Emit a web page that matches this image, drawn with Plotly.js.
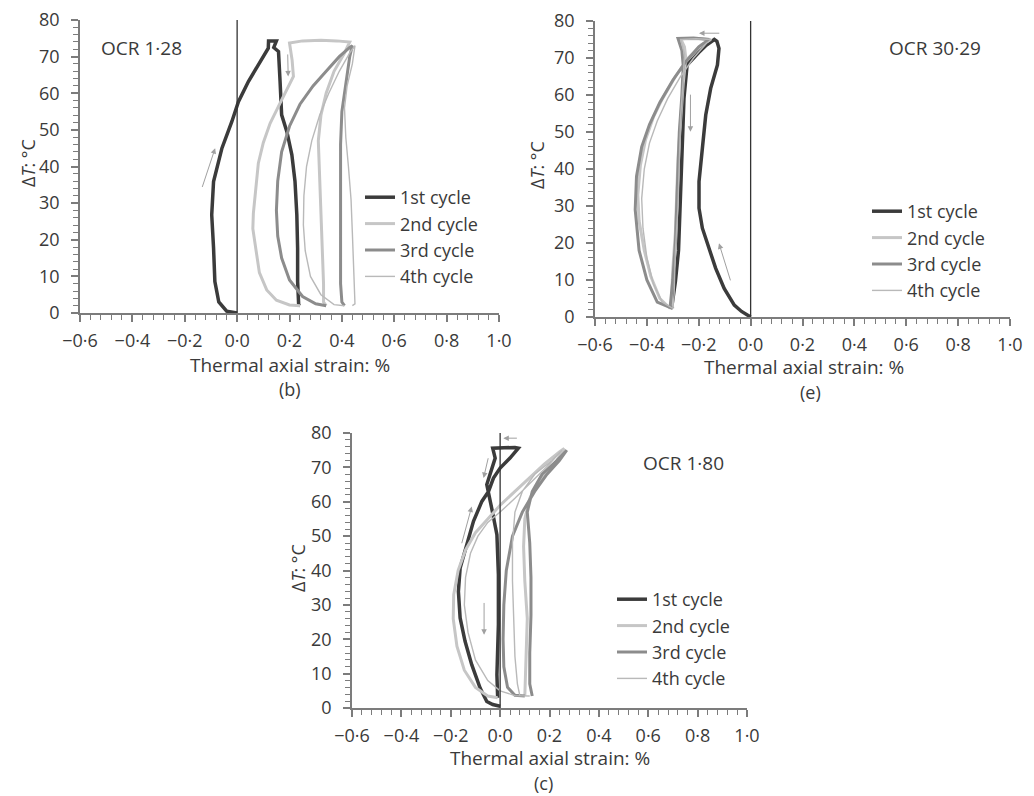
<!DOCTYPE html>
<html>
<head>
<meta charset="utf-8">
<script src="https://cdn.plot.ly/plotly-3.0.1.min.js"></script>
<style>html,body{margin:0;padding:0;background:#fff}</style>
</head>
<body>
<div id="chart"></div>
<script>
// ---------- axes ----------
const xRange = [-0.6, 1.0];
const xMajorStep = 0.2;
const xMinorStep = 0.04;
const yRange = [0, 80];
const yMajorStep = 10;
const yMinorStep = 2;
const cycleNames = ['1st cycle','2nd cycle','3rd cycle','4th cycle'];
const zeroStrainX = [0, 0];
const zeroStrainY = [0, 80];

// ---------- panel (b) OCR 1·28 ----------
const bC1x = [0.0,-0.04,-0.07,-0.085,-0.09,-0.097,-0.09,-0.058,-0.02,0.005,0.043,0.088,0.119,0.12,0.15,0.14,0.158,0.164,0.17,0.19,0.209,0.221,0.228,0.231,0.231,0.235,0.24];
const bC1y = [0,0.5,3,8.6,17.7,26.8,35.9,45,52.3,57.7,63.2,68.6,72.3,74.3,74.3,72.5,71.4,63.2,54.1,49.5,43.2,35.9,26.8,17.7,8.6,2.2,2];
const bC2x = [0.24,0.2,0.15,0.113,0.085,0.069,0.06,0.062,0.07,0.081,0.1,0.126,0.164,0.215,0.21,0.2,0.25,0.32,0.38,0.43,0.41,0.37,0.34,0.32,0.31,0.315,0.32,0.325,0.33,0.33,0.34];
const bC2y = [2,2.2,3.5,6.3,11,18,23,27.2,34,40.9,46.5,51.8,57.3,64.6,69,73.7,74.3,74.5,74.3,74,71,66,60,54,47,38,28,18,8,3,2];
const bC3x = [0.34,0.3,0.25,0.2,0.17,0.155,0.15,0.155,0.17,0.2,0.24,0.29,0.34,0.39,0.43,0.44,0.43,0.415,0.4,0.395,0.395,0.395,0.395,0.395,0.4,0.41];
const bC3y = [2,2.5,4.5,9,15,21,28,36,44,51,57,62,66,70,72.5,73,70,63,55,46,37,27,17,8,3,2];
const bC4x = [0.41,0.37,0.32,0.28,0.26,0.253,0.255,0.265,0.285,0.315,0.35,0.39,0.43,0.45,0.44,0.42,0.41,0.415,0.425,0.435,0.44,0.445,0.45,0.45,0.44];
const bC4y = [2,2.3,5,10,17,24,32,40,47,54,60,66,71,73,68,62,56,48,40,31,22,13,6,2.5,2];
const bArrowTail = [[-0.135,34],[0.193,71]];
const bArrowHead = [[-0.084,45],[0.195,64.6]];

// ---------- panel (e) OCR 30·29 ----------
const eC1x = [0.0,-0.01,-0.035,-0.063,-0.102,-0.135,-0.16,-0.186,-0.199,-0.2,-0.199,-0.186,-0.173,-0.154,-0.128,-0.122,-0.13,-0.14,-0.17,-0.2,-0.245,-0.257,-0.264,-0.27,-0.278,-0.29,-0.303,-0.31];
const eC1y = [0,0.5,1.5,3.2,7.7,13.2,18.6,24,29.4,33,36.6,45.6,54.6,61.8,68.1,72.6,74.5,75,73.5,71.5,68.1,59.1,45.6,27.6,18,9.6,3.2,2.3];
const eC2x = [-0.31,-0.35,-0.385,-0.41,-0.43,-0.435,-0.425,-0.405,-0.375,-0.34,-0.29,-0.24,-0.19,-0.155,-0.2,-0.27,-0.255,-0.25,-0.26,-0.27,-0.28,-0.285,-0.29,-0.3,-0.305,-0.3];
const eC2y = [2.3,5,11,18,26,33,41,48,54,59,65,70,73.5,75,75.3,75.2,73,70,63,53,43,33,23,13,5,2.3];
const eC3x = [-0.3,-0.36,-0.4,-0.43,-0.445,-0.44,-0.42,-0.39,-0.35,-0.3,-0.25,-0.2,-0.16,-0.22,-0.28,-0.265,-0.26,-0.265,-0.275,-0.28,-0.285,-0.29,-0.3,-0.31,-0.3];
const eC3y = [2.3,4,10,18,29,38,46,52,58,64,69,73,75,75.4,75.3,72,68,60,50,40,30,20,10,3,2.3];
const eC4x = [-0.3,-0.34,-0.375,-0.4,-0.415,-0.42,-0.41,-0.39,-0.36,-0.32,-0.27,-0.22,-0.17,-0.15,-0.21,-0.27,-0.255,-0.26,-0.27,-0.275,-0.28,-0.29,-0.295,-0.3];
const eC4y = [2.3,4,9,16,24,32,40,47,53,59,65,70,74,75,75.2,75,71,64,54,42,30,18,6,2.3];
const eArrowTail = [[-0.115,76.7],[-0.232,60.5],[-0.076,9.5]];
const eArrowHead = [[-0.199,76.7],[-0.232,50.1],[-0.122,19.9]];

// ---------- panel (c) OCR 1·80 ----------
const cC1x = [0.0,-0.03,-0.054,-0.081,-0.115,-0.142,-0.162,-0.169,-0.162,-0.135,-0.108,-0.074,-0.047,-0.027,0.0,0.04,0.074,0.06,0.02,-0.03,-0.02,-0.04,-0.054,-0.034,-0.013,-0.007,-0.007,-0.013,-0.013,-0.01];
const cC1y = [0.5,1,1.9,5.8,12.6,19.4,26.2,33.9,40.7,47.5,54.3,60.1,63,66.9,69.8,72.7,75.6,75.8,75.8,75.6,72.7,67.9,65,58.1,50.4,38.8,24.3,9.7,4,3];
const cC2x = [-0.01,-0.05,-0.1,-0.145,-0.175,-0.19,-0.188,-0.17,-0.14,-0.1,-0.05,0.0,0.06,0.12,0.18,0.24,0.26,0.22,0.16,0.12,0.1,0.095,0.1,0.11,0.105,0.1,0.1];
const cC2y = [3,3.5,6,11,18,26,33,40,46,51,55,59,63,67,71,74.5,75.5,71,66,61,55,47,37,26,15,6,3.5];
const cC3x = [0.1,0.06,0.03,0.015,0.012,0.015,0.025,0.05,0.09,0.14,0.19,0.24,0.27,0.23,0.17,0.13,0.11,0.12,0.125,0.125,0.12,0.12,0.13];
const cC3y = [3.5,3.7,6,12,20,30,40,50,57,63,68,72,75,72,68,63,57,48,38,27,16,7,3.5];
const cC4x = [0.12,0.06,0.0,-0.05,-0.1,-0.13,-0.145,-0.14,-0.12,-0.09,-0.05,0.0,0.06,0.13,0.2,0.25,0.21,0.14,0.09,0.06,0.05,0.05,0.055,0.06,0.07,0.08];
const cC4y = [3.5,3.6,5,8,14,22,30,38,45,50,54,57,61,66,71,75,72,68,63,57,48,37,26,15,7,3.5];
const cArrowTail = [[0.074,78.5],[-0.047,73.1],[-0.157,47.5],[-0.065,31]];
const cArrowHead = [[0.013,78.5],[-0.067,66.9],[-0.115,58.6],[-0.065,21.3]];

// ---------- styles ----------
const cycleColors = ['#3b3b3b','#c6c6c6','#8c8c8c','#b9b9b9'];
const cycleWidths = [3.5,3,3,1.4];
const textColor = '#3a3a3a';
const axisColor = '#7c7c7c';
const FONT = 'Open Sans, Noto Sans, sans-serif';

const panels = [
  {key:'b', xa:'x', ya:'y', legend:'legend', series:[[bC1x,bC1y],[bC2x,bC2y],[bC3x,bC3y],[bC4x,bC4y]], tails:bArrowTail, heads:bArrowHead},
  {key:'e', xa:'x2', ya:'y2', legend:'legend2', series:[[eC1x,eC1y],[eC2x,eC2y],[eC3x,eC3y],[eC4x,eC4y]], tails:eArrowTail, heads:eArrowHead},
  {key:'c', xa:'x3', ya:'y3', legend:'legend3', series:[[cC1x,cC1y],[cC2x,cC2y],[cC3x,cC3y],[cC4x,cC4y]], tails:cArrowTail, heads:cArrowHead}
];

const traces = [];
const annotations = [];
panels.forEach(p => {
  p.series.forEach((s, i) => {
    traces.push({
      type:'scatter', mode:'lines', x:s[0], y:s[1],
      xaxis:p.xa, yaxis:p.ya, name:cycleNames[i],
      legend:p.legend, legendgroup:p.key+i,
      line:{color:cycleColors[i], width:cycleWidths[i]}
    });
  });
  traces.push({type:'scatter', mode:'lines', x:zeroStrainX, y:zeroStrainY, xaxis:p.xa, yaxis:p.ya,
    showlegend:false, hoverinfo:'skip', line:{color:'#333', width:1.3}});
  p.tails.forEach((t, k) => {
    const h = p.heads[k];
    annotations.push({xref:p.xa, yref:p.ya, axref:p.xa, ayref:p.ya, x:h[0], y:h[1], ax:t[0], ay:t[1],
      text:'', showarrow:true, arrowhead:2, arrowsize:1.1, arrowwidth:1, arrowcolor:'#a0a0a0'});
  });
});

function xAxis(dom, anchor){
  return {domain:dom, anchor:anchor, range:xRange, tickmode:'linear', tick0:xRange[0], dtick:xMajorStep, tickformat:'.1f',
    ticks:'outside', ticklen:7, tickwidth:1.5, tickcolor:axisColor, showline:true, linecolor:axisColor, linewidth:1.5,
    showgrid:false, zeroline:false, ticklabelstandoff:4,
    minor:{dtick:xMinorStep, tick0:xRange[0], ticks:'outside', ticklen:5, tickwidth:1.2, tickcolor:axisColor, showgrid:false},
    tickfont:{size:18, color:textColor}, fixedrange:true};
}
function yAxis(dom, anchor){
  return {domain:dom, anchor:anchor, range:yRange, tickmode:'linear', tick0:0, dtick:yMajorStep,
    ticks:'outside', ticklen:7, tickwidth:1.5, tickcolor:axisColor, showline:true, linecolor:axisColor, linewidth:1.5,
    showgrid:false, zeroline:false, ticklabelstandoff:8,
    minor:{dtick:yMinorStep, tick0:0, ticks:'outside', ticklen:5, tickwidth:1.2, tickcolor:axisColor, showgrid:false},
    tickfont:{size:18, color:textColor}, fixedrange:true};
}

const W = 1034, H = 796;
const px = v => v / W;
const py = v => 1 - v / H;

function txt(text, x, y, opts){
  return Object.assign({xref:'paper', yref:'paper', x:px(x), y:py(y), text:text, showarrow:false,
    xanchor:'center', yanchor:'middle', font:{family:FONT, size:18, color:textColor}}, opts || {});
}
const ocrFont = {family:FONT, size:19, color:textColor};
const titleFont = {family:FONT, size:19, color:textColor};
annotations.push(
  txt('OCR 1\u00b728', 99, 48, {xanchor:'left', font:ocrFont}),
  txt('OCR 30\u00b729', 887, 48, {xanchor:'left', font:ocrFont}),
  txt('OCR 1\u00b780', 641, 463, {xanchor:'left', font:ocrFont}),
  txt('Thermal axial strain: %', 290, 365, {font:titleFont}),
  txt('Thermal axial strain: %', 804, 367, {font:titleFont}),
  txt('Thermal axial strain: %', 550, 758, {font:titleFont}),
  txt('(b)', 290, 389),
  txt('(e)', 810, 392),
  txt('(c)', 543, 783),
  txt('\u0394<i>T</i>: \u00b0C', 28, 163, {textangle:-90}),
  txt('\u0394<i>T</i>: \u00b0C', 537, 165, {textangle:-90}),
  txt('\u0394<i>T</i>: \u00b0C', 298, 568, {textangle:-90})
);

function legendAt(x, y){
  return {x:px(x), y:py(y), xanchor:'left', yanchor:'top', bgcolor:'rgba(0,0,0,0)', borderwidth:0,
    tracegroupgap:0, itemwidth:30, font:{family:FONT, size:18, color:textColor}};
}

const layout = {
  width:W, height:H, margin:{l:0, r:0, t:0, b:0},
  separators:'\u00b7,',
  showlegend:true,
  xaxis: xAxis([px(80), px(499)], 'y'),
  yaxis: yAxis([py(313), py(20)], 'x'),
  xaxis2: xAxis([px(595), px(1010)], 'y2'),
  yaxis2: yAxis([py(317), py(21)], 'x2'),
  xaxis3: xAxis([px(352), px(747)], 'y3'),
  yaxis3: yAxis([py(708), py(433)], 'x3'),
  legend: legendAt(360, 179),
  legend2: legendAt(867, 193),
  legend3: legendAt(612, 581),
  annotations: annotations
};

Plotly.newPlot('chart', traces, layout, {displayModeBar:false});
</script>
</body>
</html>
